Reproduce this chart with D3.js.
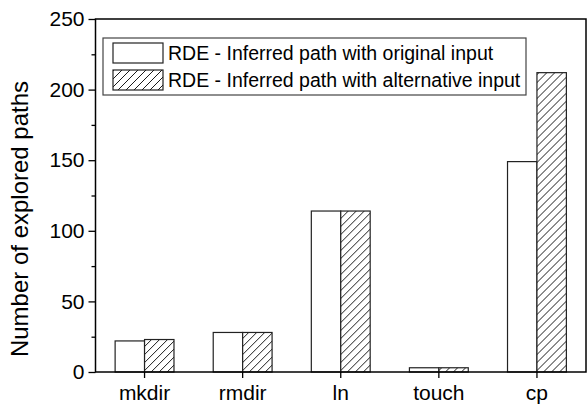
<!DOCTYPE html>
<html>
<head>
<meta charset="utf-8">
<script src="https://cdn.jsdelivr.net/npm/d3@7"></script>
<style>
  body { margin: 0; background: #fff; }
  svg text { font-family: "Liberation Sans", Arial, Helvetica, sans-serif; }
</style>
</head>
<body>
<svg id="chart"></svg>
<script>
// data
const commands = ['mkdir', 'rmdir', 'ln', 'touch', 'cp'];
const seriesNames = ['RDE - Inferred path with original input', 'RDE - Inferred path with alternative input'];
const originalInput = [22, 28, 114, 3, 149];
const alternativeInput = [23, 28, 114, 3, 212];
const yTicks = [0, 50, 100, 150, 200, 250];
const yMinorTicks = [25, 75, 125, 175, 225];

const w = 587, h = 404;
const margin = {top: 19, right: 1, bottom: 32, left: 95.5};
const FONT = '"Liberation Sans", Arial, Helvetica, sans-serif';

const svg = d3.select('#chart').attr('width', w).attr('height', h);

// hatch for the second series
svg.append('defs').append('pattern')
    .attr('id', 'hatch')
    .attr('patternUnits', 'userSpaceOnUse')
    .attr('width', 8).attr('height', 8)
    .call(p => {
        p.append('rect').attr('width', 8).attr('height', 8).attr('fill', '#fff');
        p.append('path')
            .attr('d', 'M0,8 L8,0 M-2,2 L2,-2 M6,10 L10,6')
            .attr('stroke', '#000').attr('stroke-width', 0.9);
    });

const xScale = d3.scaleBand().domain(commands)
    .range([margin.left, w - margin.right])
    .paddingInner(0.4).paddingOuter(0.2);
const xSeries = d3.scaleBand().domain([0, 1]).range([0, xScale.bandwidth()]);
const yScale = d3.scaleLinear().domain([0, 250]).range([h - margin.bottom, margin.top]);

const rows = commands.map((c, i) => ({cmd: c, vals: [originalInput[i], alternativeInput[i]]}));

// bars
const groups = svg.selectAll('.grp').data(rows).join('g')
    .attr('transform', d => `translate(${xScale(d.cmd)},0)`);
groups.selectAll('rect').data(d => d.vals.map((v, k) => ({v, k}))).join('rect')
    .attr('x', d => xSeries(d.k))
    .attr('y', d => yScale(d.v))
    .attr('width', xSeries.bandwidth())
    .attr('height', d => yScale(0) - yScale(d.v))
    .attr('fill', d => d.k === 0 ? '#fff' : 'url(#hatch)')
    .attr('stroke', '#222').attr('stroke-width', 1.2);

// axes
const xAxis = d3.axisBottom(xScale).tickSize(6).tickPadding(7);
const yAxis = d3.axisLeft(yScale).tickValues(yTicks).tickSize(7).tickPadding(4);
const yMinor = d3.axisLeft(yScale).tickValues(yMinorTicks).tickSize(4).tickFormat('');

svg.append('g').attr('transform', `translate(0,${h - margin.bottom})`).call(xAxis)
    .attr('font-family', FONT)
    .call(g => g.selectAll('text').attr('font-size', 21).attr('fill', '#000'));
svg.append('g').attr('transform', `translate(${margin.left},0)`).call(yAxis)
    .attr('font-family', FONT)
    .call(g => g.selectAll('text').attr('font-size', 21).attr('fill', '#000'));
svg.append('g').attr('transform', `translate(${margin.left},0)`).call(yMinor);
svg.selectAll('.domain').remove();
svg.selectAll('.tick line').attr('stroke', '#000').attr('stroke-width', 1.3);

// frame
svg.append('rect')
    .attr('x', margin.left).attr('y', margin.top)
    .attr('width', w - margin.right - margin.left)
    .attr('height', h - margin.bottom - margin.top)
    .attr('fill', 'none').attr('stroke', '#000').attr('stroke-width', 1.5);

// y title
svg.append('text')
    .attr('transform', `translate(28,${219}) rotate(-90)`)
    .attr('text-anchor', 'middle')
    .attr('font-family', FONT)
    .attr('font-size', 24)
    .text('Number of explored paths');

// legend
const lg = svg.append('g').attr('font-family', FONT);
lg.append('rect').attr('x', 103).attr('y', 38).attr('width', 423).attr('height', 57)
    .attr('fill', '#fff').attr('stroke', '#444').attr('stroke-width', 1.2);
seriesNames.forEach((name, k) => {
    const y0 = 43 + k * 27;
    lg.append('rect').attr('x', 113).attr('y', y0).attr('width', 50).attr('height', 20)
        .attr('fill', k === 0 ? '#fff' : 'url(#hatch)')
        .attr('stroke', '#222').attr('stroke-width', 1.2);
    lg.append('text').attr('x', 168).attr('y', y0 + 10).attr('dy', '0.35em')
        .attr('font-size', 19.5).text(name);
});
</script>
</body>
</html>
